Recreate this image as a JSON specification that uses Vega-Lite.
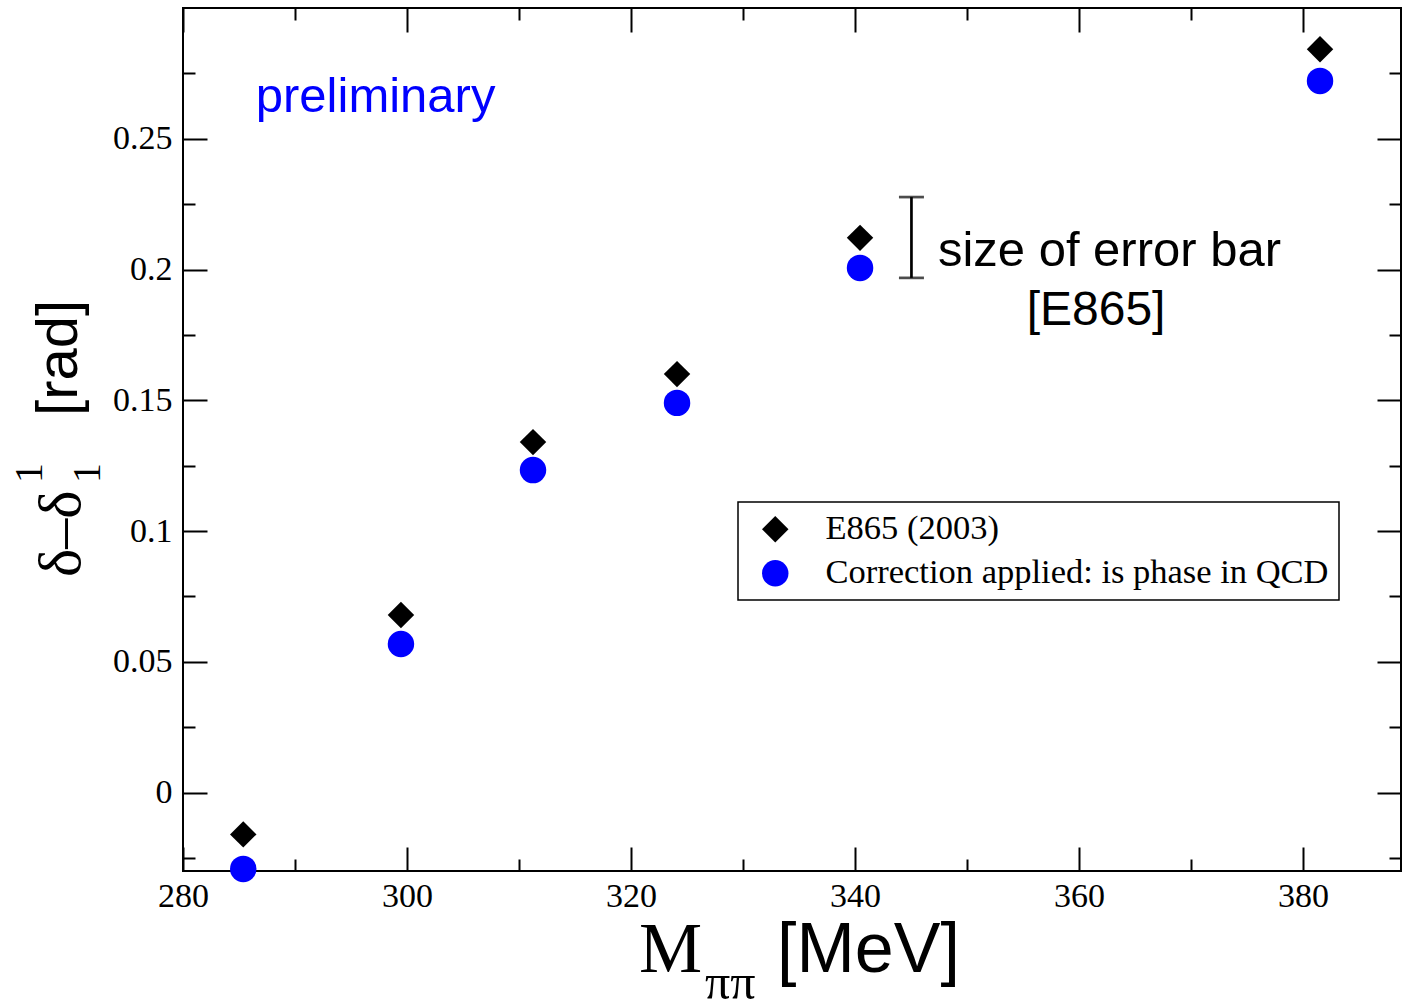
{
  "$schema": "https://vega.github.io/schema/vega-lite/v6.json",
  "width": 1218,
  "height": 863,
  "autosize": {"type": "none"},
  "padding": {"left": 183, "top": 8, "right": 1, "bottom": 132},
  "background": "white",
  "config": {
    "view": {"stroke": "black", "strokeWidth": 2},
    "axis": {"grid": false, "domain": false, "tickColor": "black", "tickWidth": 2, "labelColor": "black", "title": null},
    "legend": {"strokeWidth": 1.5}
  },
  "data": {
    "values": [
      {"m": 285.38, "delta": -0.0160, "series": "E865 (2003)"},
      {"m": 299.46, "delta": 0.0679, "series": "E865 (2003)"},
      {"m": 311.25, "delta": 0.1340, "series": "E865 (2003)"},
      {"m": 324.11, "delta": 0.1600, "series": "E865 (2003)"},
      {"m": 340.45, "delta": 0.2121, "series": "E865 (2003)"},
      {"m": 381.52, "delta": 0.2842, "series": "E865 (2003)"},
      {"m": 285.38, "delta": -0.0292, "series": "Correction applied: is phase in QCD"},
      {"m": 299.46, "delta": 0.0568, "series": "Correction applied: is phase in QCD"},
      {"m": 311.25, "delta": 0.1233, "series": "Correction applied: is phase in QCD"},
      {"m": 324.11, "delta": 0.1490, "series": "Correction applied: is phase in QCD"},
      {"m": 340.45, "delta": 0.2006, "series": "Correction applied: is phase in QCD"},
      {"m": 381.52, "delta": 0.2721, "series": "Correction applied: is phase in QCD"}
    ]
  },
  "resolve": {"axis": {"x": "independent", "y": "independent"}},
  "layer": [
    {
      "mark": {"type": "point", "filled": true, "size": 700, "opacity": 1, "strokeWidth": 0},
      "encoding": {
        "x": {"field": "m", "type": "quantitative",
          "scale": {"domain": [280, 388.75], "nice": false, "zero": false},
          "axis": {"orient": "bottom", "values": [280, 300, 320, 340, 360, 380], "format": "d", "tickSize": -24, "labelPadding": 32, "labelFont": "Liberation Serif", "labelFontSize": 34, "labelFlush": false, "labelOverlap": false}},
        "y": {"field": "delta", "type": "quantitative",
          "scale": {"domain": [-0.03, 0.30], "nice": false, "zero": false},
          "axis": {"orient": "left", "values": [0, 0.05, 0.1, 0.15, 0.2, 0.25], "format": "~g", "tickSize": -24, "labelPadding": 35, "labelFont": "Liberation Serif", "labelFontSize": 34, "labelFlush": false, "labelOverlap": false}},
        "shape": {"field": "series", "type": "nominal",
          "scale": {"domain": ["E865 (2003)", "Correction applied: is phase in QCD"], "range": ["diamond", "circle"]},
          "legend": {"title": null, "orient": "none", "legendX": 555, "legendY": 494, "strokeColor": "black", "fillColor": "white", "padding": 10, "symbolSize": 700, "symbolOffset": 10, "labelOffset": 33, "rowPadding": 9, "labelFont": "Liberation Serif", "labelFontSize": 34.5, "labelColor": "black", "labelLimit": 0, "symbolStrokeWidth": 0}},
        "color": {"field": "series", "type": "nominal",
          "scale": {"domain": ["E865 (2003)", "Correction applied: is phase in QCD"], "range": ["black", "#0000ff"]},
          "legend": {"title": null, "orient": "none", "legendX": 555, "legendY": 494, "strokeColor": "black", "fillColor": "white", "padding": 10, "symbolSize": 700, "symbolOffset": 10, "labelOffset": 33, "rowPadding": 9, "labelFont": "Liberation Serif", "labelFontSize": 34.5, "labelColor": "black", "labelLimit": 0, "symbolStrokeWidth": 0}}
      }
    },
    {
      "mark": {"type": "point", "opacity": 0},
      "encoding": {
        "x": {"field": "m", "type": "quantitative", "axis": {"orient": "top", "values": [280, 300, 320, 340, 360, 380], "labels": false, "tickSize": -24}},
        "y": {"field": "delta", "type": "quantitative", "axis": {"orient": "right", "values": [0, 0.05, 0.1, 0.15, 0.2, 0.25], "labels": false, "tickSize": -24}}
      }
    },
    {
      "mark": {"type": "point", "opacity": 0},
      "encoding": {
        "x": {"field": "m", "type": "quantitative", "axis": {"orient": "bottom", "values": [290, 310, 330, 350, 370], "labels": false, "tickSize": -12}},
        "y": {"field": "delta", "type": "quantitative", "axis": {"orient": "left", "values": [-0.025, 0.025, 0.075, 0.125, 0.175, 0.225, 0.275], "labels": false, "tickSize": -12}}
      }
    },
    {
      "mark": {"type": "point", "opacity": 0},
      "encoding": {
        "x": {"field": "m", "type": "quantitative", "axis": {"orient": "top", "values": [290, 310, 330, 350, 370], "labels": false, "tickSize": -12}},
        "y": {"field": "delta", "type": "quantitative", "axis": {"orient": "right", "values": [-0.025, 0.025, 0.075, 0.125, 0.175, 0.225, 0.275], "labels": false, "tickSize": -12}}
      }
    },
    {
      "data": {"values": [{"m": 345.04, "lo": 0.1968, "hi": 0.2277}]},
      "mark": {"type": "errorbar", "color": "black", "ticks": {"size": 25, "thickness": 2.7, "color": "black"}, "rule": {"strokeWidth": 2.7}},
      "encoding": {
        "x": {"field": "m", "type": "quantitative", "axis": null},
        "y": {"field": "lo", "type": "quantitative", "axis": null},
        "y2": {"field": "hi"}
      }
    },
    {
      "data": {"values": [{}]},
      "mark": {"type": "text", "text": "preliminary", "font": "Liberation Sans", "fontSize": 49, "color": "#0000ff", "align": "left", "baseline": "alphabetic"},
      "encoding": {"x": {"datum": 286.5, "type": "quantitative", "axis": null}, "y": {"datum": 0.2602, "type": "quantitative", "axis": null}}
    },
    {
      "data": {"values": [{}]},
      "mark": {"type": "text", "text": "size of error bar", "font": "Liberation Sans", "fontSize": 49, "color": "black", "align": "left", "baseline": "alphabetic"},
      "encoding": {"x": {"datum": 347.4, "type": "quantitative", "axis": null}, "y": {"datum": 0.2013, "type": "quantitative", "axis": null}}
    },
    {
      "data": {"values": [{}]},
      "mark": {"type": "text", "text": "[E865]", "font": "Liberation Sans", "fontSize": 48, "color": "black", "align": "center", "baseline": "alphabetic"},
      "encoding": {"x": {"datum": 361.52, "type": "quantitative", "axis": null}, "y": {"datum": 0.1788, "type": "quantitative", "axis": null}}
    },
    {
      "data": {"values": [{}]},
      "mark": {"type": "text", "text": "M", "font": "Liberation Serif", "fontSize": 71, "color": "black", "align": "left", "baseline": "alphabetic"},
      "encoding": {"x": {"datum": 320.71, "type": "quantitative", "axis": null}, "y": {"datum": -0.0686, "type": "quantitative", "axis": null}}
    },
    {
      "data": {"values": [{}]},
      "mark": {"type": "text", "text": "ππ", "font": "Liberation Serif", "fontSize": 50, "color": "black", "align": "left", "baseline": "alphabetic"},
      "encoding": {"x": {"datum": 326.61, "type": "quantitative", "axis": null}, "y": {"datum": -0.0789, "type": "quantitative", "axis": null}}
    },
    {
      "data": {"values": [{}]},
      "mark": {"type": "text", "text": "[MeV]", "font": "Liberation Sans", "fontSize": 70, "color": "black", "align": "left", "baseline": "alphabetic"},
      "encoding": {"x": {"datum": 333.04, "type": "quantitative", "axis": null}, "y": {"datum": -0.0686, "type": "quantitative", "axis": null}}
    },
    {
      "data": {"values": [{}]},
      "mark": {"type": "text", "text": "δ–δ", "font": "Liberation Serif", "fontSize": 60, "color": "black", "align": "left", "baseline": "alphabetic", "angle": 270},
      "encoding": {"x": {"datum": 270.80, "type": "quantitative", "axis": null}, "y": {"datum": 0.0824, "type": "quantitative", "axis": null}}
    },
    {
      "data": {"values": [{}]},
      "mark": {"type": "text", "text": "1", "font": "Liberation Serif", "fontSize": 40, "color": "black", "align": "left", "baseline": "alphabetic", "angle": 270},
      "encoding": {"x": {"datum": 267.41, "type": "quantitative", "axis": null}, "y": {"datum": 0.1184, "type": "quantitative", "axis": null}}
    },
    {
      "data": {"values": [{}]},
      "mark": {"type": "text", "text": "1", "font": "Liberation Serif", "fontSize": 40, "color": "black", "align": "left", "baseline": "alphabetic", "angle": 270},
      "encoding": {"x": {"datum": 272.59, "type": "quantitative", "axis": null}, "y": {"datum": 0.1184, "type": "quantitative", "axis": null}}
    },
    {
      "data": {"values": [{}]},
      "mark": {"type": "text", "text": "[rad]", "font": "Liberation Sans", "fontSize": 58, "color": "black", "align": "left", "baseline": "alphabetic", "angle": 270},
      "encoding": {"x": {"datum": 270.53, "type": "quantitative", "axis": null}, "y": {"datum": 0.1440, "type": "quantitative", "axis": null}}
    }
  ]
}
